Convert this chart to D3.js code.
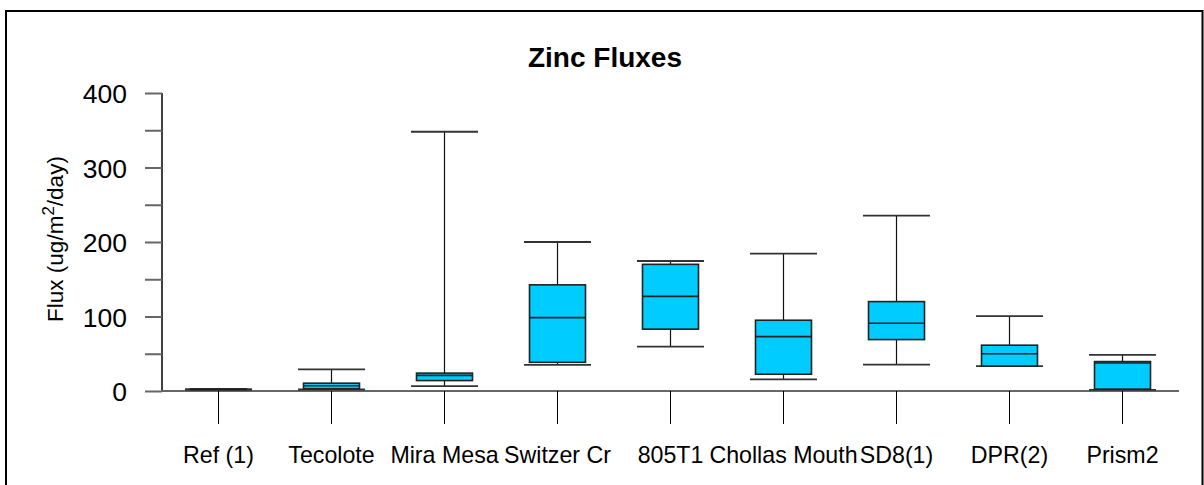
<!DOCTYPE html>
<html>
<head>
<meta charset="utf-8">
<script src="https://cdn.jsdelivr.net/npm/d3@7"></script>
<style>
  html, body { margin: 0; padding: 0; background: #fff; }
  svg { display: block; font-family: "Liberation Sans", Arial, Helvetica, sans-serif; }
</style>
</head>
<body>
<svg id="chart" width="1204" height="485"></svg>
<script>
// Zinc flux box-plot statistics per station (ug/m2/day)
const categories  = ["Ref (1)", "Tecolote", "Mira Mesa", "Switzer Cr", "805T1", "Chollas Mouth", "SD8(1)", "DPR(2)", "Prism2"];
const whiskerLow  = [1.5, 2,   6.5, 35,    59.5, 15.5,  35.5,  33.5,  1.5];
const quartile1   = [2,   3,   14,  38.5,  83,   22.5,  69,    33.5,  2.5];
const medians     = [2.5, 7,   21,  98.5,  127,  73,    91,    50,    37.5];
const quartile3   = [2.5, 10.5, 24, 142.5, 170,  95,    120,   61.5,  39.5];
const whiskerHigh = [2.5, 29,  348, 200,   174.5, 184.5, 235.5, 100.5, 48.5];
const yTicks      = [0, 100, 200, 300, 400];
const yMinorTicks = [50, 150, 250, 350];

const svg = d3.select("#chart");

// outer frame (open at the bottom)
svg.append("path")
  .attr("d", "M6,490 L6,11 L1202.5,11 L1202.5,490")
  .attr("fill", "none").attr("stroke", "#000").attr("stroke-width", 2);

const x = d3.scaleBand().domain(categories).range([162, 1179]).padding(0);
const y = d3.scaleLinear().domain([0, 400]).range([391, 93]);

const boxW = 56, capW = 67;

// title
svg.append("text")
  .attr("x", 605).attr("y", 67)
  .attr("text-anchor", "middle")
  .attr("font-size", 28).attr("font-weight", "bold")
  .text("Zinc Fluxes");

// y axis
const yAxis = svg.append("g").attr("transform", "translate(162,0)")
  .call(d3.axisLeft(y).tickValues(yTicks.concat(yMinorTicks)).tickSize(17)
        .tickFormat(d => yTicks.includes(d) ? d : ""));
yAxis.select(".domain").attr("stroke", "#000").attr("stroke-width", 1.5).attr("d", `M0,${y(0)}V${y(400)}`);
yAxis.selectAll(".tick line").attr("stroke", "#666").attr("stroke-width", 2);
yAxis.selectAll(".tick text")
  .attr("font-size", 26.5).attr("font-family", "Liberation Sans, Arial, sans-serif")
  .attr("fill", "#000").attr("x", -35).attr("dy", "0.36em");

// y axis label with superscript
const yl = svg.append("text")
  .attr("transform", "translate(63,239) rotate(-90)")
  .attr("text-anchor", "middle")
  .attr("font-size", 22.5);
yl.append("tspan").text("Flux (ug/m");
yl.append("tspan").attr("dy", -9).attr("font-size", 17).text("2");
yl.append("tspan").attr("dy", 9).text("/day)");

// x axis (ticks hang below the baseline)
const xAxis = svg.append("g").attr("transform", `translate(0,${y(0)})`)
  .call(d3.axisBottom(x).tickSize(33).tickPadding(40));
xAxis.select(".domain").attr("stroke", "#666").attr("stroke-width", 2).attr("d", `M162,0H1179`);
xAxis.selectAll(".tick line").attr("stroke", "#000").attr("stroke-width", 1);
xAxis.selectAll(".tick text")
  .attr("font-size", 23.2).attr("font-family", "Liberation Sans, Arial, sans-serif")
  .attr("fill", "#000").attr("dy", 0).attr("y", 72);

// boxes
const data = categories.map((c, i) => ({
  c, lo: whiskerLow[i], q1: quartile1[i], med: medians[i], q3: quartile3[i], hi: whiskerHigh[i]
}));

const g = svg.append("g");
const box = g.selectAll("g.box").data(data).join("g").attr("class", "box")
  .attr("transform", d => `translate(${x(d.c) + x.bandwidth() / 2},0)`);

box.append("line").attr("x1", 0).attr("x2", 0)
  .attr("y1", d => y(d.lo)).attr("y2", d => y(d.hi))
  .attr("stroke", "#111").attr("stroke-width", 1.2);

box.append("line").attr("x1", -capW / 2).attr("x2", capW / 2)
  .attr("y1", d => y(d.hi)).attr("y2", d => y(d.hi))
  .attr("stroke", "#333").attr("stroke-width", 1.8);
box.append("line").attr("x1", -capW / 2).attr("x2", capW / 2)
  .attr("y1", d => y(d.lo)).attr("y2", d => y(d.lo))
  .attr("stroke", "#333").attr("stroke-width", 1.8);

box.append("rect")
  .attr("x", -boxW / 2).attr("width", boxW)
  .attr("y", d => y(d.q3)).attr("height", d => y(d.q1) - y(d.q3))
  .attr("fill", "#00CCFF").attr("stroke", "#222").attr("stroke-width", 1.6);

box.append("line").attr("x1", -boxW / 2).attr("x2", boxW / 2)
  .attr("y1", d => y(d.med)).attr("y2", d => y(d.med))
  .attr("stroke", "#222").attr("stroke-width", 1.6);
</script>
</body>
</html>
